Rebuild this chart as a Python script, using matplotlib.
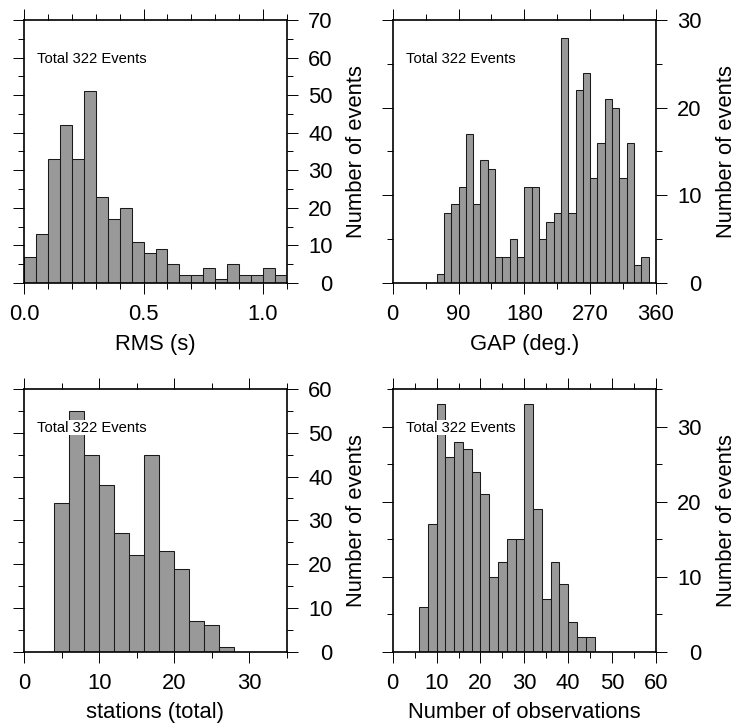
import matplotlib
matplotlib.use("Agg")
import matplotlib.pyplot as plt
import numpy as np
from matplotlib.ticker import MultipleLocator, FormatStrFormatter

plt.rcParams["font.family"] = ["Liberation Sans", "DejaVu Sans"]

# histogram counts, bin start and bin width for each panel
rms_counts = [7, 13, 33, 42, 33, 51, 23, 17, 20, 11, 8, 9, 5, 2, 2, 4, 1, 5, 2, 2, 4, 2]
rms_start, rms_width = 0.0, 0.05

gap_counts = [1, 8, 9, 11, 17, 9, 14, 13, 3, 3, 5, 3, 11, 11, 5, 7, 8, 28, 8,
              22, 24, 12, 16, 21, 20, 12, 16, 2, 3]
gap_start, gap_width = 60, 10

sta_counts = [34, 55, 45, 38, 27, 22, 45, 23, 19, 7, 6, 1]
sta_start, sta_width = 4, 2

obs_counts = [6, 17, 33, 26, 28, 27, 24, 21, 10, 12, 15, 15, 33, 19, 7, 12, 9, 4, 2, 2]
obs_start, obs_width = 6, 2

total_label = "Total 322 Events"

W, H = 736, 728
fig = plt.figure(figsize=(W / 100, H / 100), dpi=100)

FS = 15.8
BAR = "#999999"


def panel(rect, counts, start, width, xlim, xmaj, xmin, ylim, yticks, xlabel, xfmt=None):
    ax = fig.add_axes([rect[0] / W, 1 - (rect[1] + rect[3]) / H, rect[2] / W, rect[3] / H])
    counts = np.asarray(counts)
    lefts = start + width * np.arange(len(counts))
    ax.bar(lefts, counts, width=width, align="edge", color=BAR,
           edgecolor="#1a1a1a", linewidth=0.75, zorder=2)
    ax.xaxis.set_major_locator(MultipleLocator(xmaj))
    ax.xaxis.set_minor_locator(MultipleLocator(xmin))
    if xfmt:
        ax.xaxis.set_major_formatter(FormatStrFormatter(xfmt))
    ax.set_yticks(yticks)
    ax.yaxis.set_minor_locator(MultipleLocator(5))
    ax.set_ylim(*ylim)
    ax.set_xlim(*xlim)

    ax.tick_params(which="both", direction="out", top=True, bottom=True,
                   left=True, right=True, labelleft=False, labelright=True,
                   labeltop=False, labelbottom=True, width=0.7, color="black")
    ax.tick_params(which="major", length=7.9, labelsize=FS)
    ax.tick_params(which="minor", length=4.0)
    ax.tick_params(axis="x", which="major", pad=7.5)
    ax.tick_params(axis="y", which="major", pad=25)
    plt.setp(ax.get_yticklabels(), ha="right")

    for s in ax.spines.values():
        s.set_linewidth(1.2)
        s.set_zorder(4)

    ax.set_xlabel(xlabel, fontsize=FS)
    ax.xaxis.label.set_va("center")
    ax.xaxis.set_label_coords(0.5, -0.232)

    ax.set_ylabel("Number of events", fontsize=FS)
    ax.yaxis.set_label_position("right")
    ax.yaxis.label.set_va("center")
    ax.yaxis.set_label_coords(1.266, 0.5)

    ax.text(0.051, 0.838, total_label, transform=ax.transAxes, fontsize=10.6,
            va="baseline", ha="left", zorder=3,
            bbox=dict(facecolor="white", edgecolor="none", pad=0.6))
    return ax


panel((24, 20, 263, 263), rms_counts, rms_start, rms_width,
      (0, 1.1), 0.5, 0.1, (0, 70), np.arange(0, 71, 10), "RMS (s)", "%.1f")
panel((392.7, 20, 263.3, 263), gap_counts, gap_start, gap_width,
      (0, 360), 90, 45, (0, 30), np.arange(0, 31, 10), "GAP (deg.)")
panel((24, 389, 263, 262.7), sta_counts, sta_start, sta_width,
      (0, 35), 10, 5, (0, 60), np.arange(0, 61, 10), "stations (total)")
panel((392.7, 389, 263.3, 262.7), obs_counts, obs_start, obs_width,
      (0, 60), 10, 5, (0, 35), np.arange(0, 31, 10), "Number of observations")

fig.savefig("out.png", dpi=100)
